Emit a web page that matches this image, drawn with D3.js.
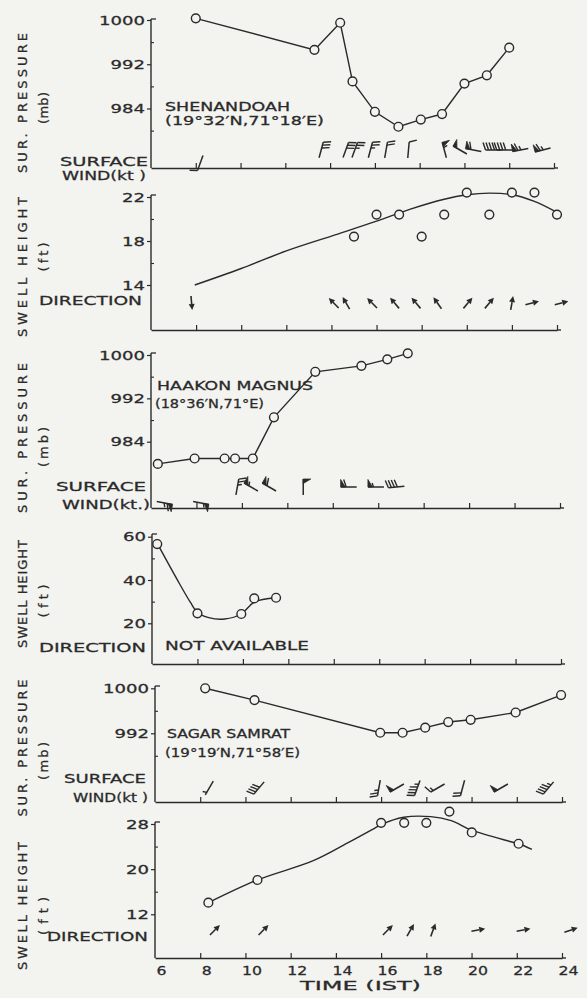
<!DOCTYPE html>
<html><head><meta charset="utf-8">
<script src="https://cdn.jsdelivr.net/npm/d3@7"></script>
<style>
html,body{margin:0;padding:0;background:#f3f3f0;}
svg{display:block;}
text{font-family:"DejaVu Sans",sans-serif;fill:#2a2a2a;font-size:13px;stroke:#2a2a2a;stroke-width:0.28px;}
</style></head><body>
<svg id="c" width="587" height="998"></svg>
<script>
// ---------------- DATA ----------------
const hourTicks = [8,10,12,14,16,18,20,22,24];
const hourLabels = [6,8,10,12,14,16,18,20,22,24];

// Shenandoah (19°32'N, 71°18'E)
const shenPressure = [[8,1000.3],[13.3,994.6],[14.45,999.5],[15,988.9],[16,983.4],[17.05,980.7],[18.05,982],[19,983],[20,988.5],[21,990],[22,995]];
const shenWind = [[13.6,15,30],[14.7,20,30],[15.1,20,25],[15.8,15,25],[16.5,10,20],[17.5,5,10],[19.1,345,55],[19.8,300,50],[20.4,280,60],[21.3,270,40],[21.8,270,40],[22.5,260,65],[23.5,255,65]];
const shenWindLow = [[8.2,200,10]];
const shenSwellObs = [[15,18.4],[16,20.4],[17,20.4],[18,18.4],[19,20.4],[20,22.4],[21,20.4],[22,22.4],[23,22.4],[24,20.4]];
const shenSwellFit = [[7.94,14],[10,15.5],[12,17.1],[14,18.45],[16,19.8],[17.5,20.9],[19,21.8],[20,22.2],[21,22.35],[22,22.2],[23,21.6],[24,20.6]];
const shenSwellDir = [[7.8,175],[14.1,315],[14.65,330],[15.8,315],[16.8,320],[17.75,320],[18.7,325],[20.05,40],[21.0,40],[22.0,10],[22.9,75],[24.2,75]];

// Haakon Magnus (18°36'N, 71°E)
const haakPressure = [[6.3,979.9],[7.92,980.9],[9.24,980.9],[9.7,980.9],[10.48,980.9],[11.41,988.5],[13.23,996.9],[15.26,998],[16.4,999.2],[17.3,1000.3]];
const haakWind = [[9.8,10,25],[10.4,300,55],[11.2,300,60],[12.7,0,50],[14.7,270,60],[15.9,270,55],[16.8,265,40]];
const haakWindLow = [[6.6,100,65],[8.2,100,55]];
const haakSwellObs = [[6.23,56.6],[8.0,24.6],[9.93,24.3],[10.5,31.5],[11.46,31.8]];
const haakSwellFit = [[6.2,57.5],[7.2,38.5],[7.7,29.5],[8.0,25],[8.5,22.6],[9.2,22],[9.93,24.3],[10.5,29.8],[11.46,31.8]];

// Sagar Samrat (19°19'N, 71°58'E)
const sagarPressure = [[8.22,1000],[10.4,997.9],[15.96,992.1],[16.95,992.1],[17.95,993],[18.97,994],[19.96,994.4],[21.95,995.7],[23.96,998.8]];
const sagarWind = [[8.4,210,5],[10.6,220,40],[15.9,190,25],[16.7,240,50],[17.6,200,45],[18.5,240,15],[19.6,195,20],[21.3,240,50],[23.4,220,45]];
const sagarSwellObs = [[8.36,14.06],[10.53,18.08],[16,28.2],[17.02,28.2],[18,28.2],[19.02,30.2],[20.01,26.5],[22.08,24.5]];
const sagarSwellFit = [[8.36,14.06],[10.53,18.08],[13,21.5],[14.5,24.6],[15.6,27],[16,27.9],[17,29.2],[18.2,29.3],[19.1,28.6],[20,26.9],[21.7,24.9],[22.08,24.5],[22.67,23.5]];
const sagarSwellDir = [[8.65,45],[10.8,45],[16.3,45],[17.3,30],[18.3,20],[20.3,80],[22.3,80],[24.4,72]];

const presMajor1 = [984,992,1000], presMinor1 = [980,988,996];
const swellMajor1 = [14,18,22], swellMinor1 = [16,20];
const presMajor2 = [984,992,1000], presMinor2 = [988,996];
const swellMajor2 = [20,40,60], swellMinor2 = [30,50];
const presMajor3 = [992,1000], presMinor3 = [988,996];
const swellMajor3 = [12,20,28], swellMinor3 = [16,24];

// ---------------- DRAWING ----------------
const ink = "#2a2a2a", bg = "#f3f3f0";
const svg = d3.select("#c");
svg.append("rect").attr("width",587).attr("height",998).attr("fill",bg);

function txt(s, x, y, len, size) {
  const t = svg.append("text").attr("x",x).attr("y",y).text(s);
  if (len) t.attr("textLength",len).attr("lengthAdjust","spacingAndGlyphs");
  if (size) t.style("font-size",size+"px");
  return t;
}
function vtxt(s, x, cy, len) {
  svg.append("text").attr("transform",`translate(${x},${cy}) rotate(-90)`)
    .attr("text-anchor","middle").attr("textLength",len).attr("lengthAdjust","spacing").text(s);
}

function panel(c) {
  const g = svg.append("g");
  const x = d3.scaleLinear().domain([6,24]).range([c.x0,c.x1]);
  const y = d3.scaleLinear().domain(c.yd).range(c.yr);
  g.append("line").attr("x1",c.x0).attr("x2",c.x0).attr("y1",c.yTop).attr("y2",c.yBot)
    .attr("stroke",ink).attr("stroke-width",1.4);
  g.append("line").attr("x1",c.x0).attr("x2",c.x0+5).attr("y1",c.yTop).attr("y2",c.yTop)
    .attr("stroke",ink).attr("stroke-width",1.3);
  const ax = g.append("g").attr("transform",`translate(${c.x0},0)`)
    .call(d3.axisLeft(y).tickValues(c.major).tickSize(4).tickPadding(2).tickFormat(d3.format("d")));
  ax.select(".domain").remove();
  ax.selectAll("line").attr("stroke",ink).attr("stroke-width",1.2);
  ax.selectAll("text").attr("fill",ink).style("font-size","13px").attr("font-family","DejaVu Sans")
    .each(function(d){ const s=String(d); d3.select(this).attr("textLength", s.length*11.5).attr("lengthAdjust","spacingAndGlyphs"); });
  const mx = g.append("g").attr("transform",`translate(${c.x0},0)`)
    .call(d3.axisRight(y).tickValues(c.minor).tickSize(3).tickFormat(""));
  mx.select(".domain").remove();
  mx.selectAll("line").attr("stroke",ink).attr("stroke-width",1.1);
  const bx = g.append("g").attr("transform",`translate(0,${c.yBot})`)
    .call(d3.axisBottom(x).tickValues(c.labels ? hourLabels : hourTicks).tickSizeInner(-5).tickSizeOuter(0)
      .tickPadding(8).tickFormat(c.labels ? d3.format("d") : ""));
  bx.select(".domain").attr("stroke",ink).attr("stroke-width",1.4);
  bx.selectAll("line").attr("stroke",ink).attr("stroke-width",1.2);
  bx.selectAll(".tick").filter(d=>d===6).select("line").remove();
  bx.selectAll("text").attr("fill",ink).style("font-size","13px").attr("font-family","DejaVu Sans").attr("dx",6)
    .each(function(d){ const s=String(d); d3.select(this).attr("textLength", s.length*10).attr("lengthAdjust","spacingAndGlyphs"); });
  g.append("line").attr("x1",c.x1).attr("x2",c.x1+4).attr("y1",c.yBot).attr("y2",c.yBot)
    .attr("stroke",ink).attr("stroke-width",1.4);
  return {g,x,y};
}

function drawLine(p, data, curve) {
  p.g.append("path").datum(data)
    .attr("d", d3.line().x(d=>p.x(d[0])).y(d=>p.y(d[1])).curve(curve))
    .attr("fill","none").attr("stroke",ink).attr("stroke-width",1.4);
}
function drawCircles(p, data) {
  p.g.selectAll(null).data(data).join("circle")
    .attr("cx",d=>p.x(d[0])).attr("cy",d=>p.y(d[1])).attr("r",4.4)
    .attr("fill",bg).attr("stroke",ink).attr("stroke-width",1.4);
}

function barb(g, cx, cy, dir, spd) {
  const a = dir*Math.PI/180, L = 16;
  const u = [Math.sin(a), -Math.cos(a)], r = [-u[1], u[0]];
  const tip = [cx+u[0]*L/2, cy+u[1]*L/2], st = [cx-u[0]*L/2, cy-u[1]*L/2];
  g.append("line").attr("x1",st[0]).attr("y1",st[1]).attr("x2",tip[0]).attr("y2",tip[1])
    .attr("stroke",ink).attr("stroke-width",1.5);
  let s = Math.round(spd/5)*5, pos = 0;
  const P = k => [tip[0]-u[0]*k, tip[1]-u[1]*k];
  while (s >= 50) {
    const p0 = P(pos), p1 = P(pos+4.5);
    const ap = [p0[0]+r[0]*7.5, p0[1]+r[1]*7.5];
    g.append("path").attr("d",`M${p0}L${ap}L${p1}Z`).attr("fill",ink).attr("stroke",ink).attr("stroke-width",0.8);
    pos += 5.5; s -= 50;
  }
  while (s >= 10) {
    const p0 = P(pos);
    g.append("line").attr("x1",p0[0]).attr("y1",p0[1])
      .attr("x2",p0[0]+r[0]*7.5+u[0]*2.5).attr("y2",p0[1]+r[1]*7.5+u[1]*2.5)
      .attr("stroke",ink).attr("stroke-width",1.4);
    pos += 3; s -= 10;
  }
  if (s >= 5) {
    if (pos === 0) pos = 3;
    const p0 = P(pos);
    g.append("line").attr("x1",p0[0]).attr("y1",p0[1])
      .attr("x2",p0[0]+r[0]*4+u[0]*1.3).attr("y2",p0[1]+r[1]*4+u[1]*1.3)
      .attr("stroke",ink).attr("stroke-width",1.4);
  }
}
function drawWind(p, data, cy) {
  data.forEach(d => barb(p.g, p.x(d[0]), cy, d[1], d[2]));
}
function drawDirs(p, data, cy) {
  data.forEach(d => {
    const a = d[1]*Math.PI/180, L = 14;
    const u = [Math.sin(a), -Math.cos(a)], r = [-u[1], u[0]];
    const cx = p.x(d[0]);
    const t0 = [cx-u[0]*L/2, cy-u[1]*L/2], h = [cx+u[0]*L/2, cy+u[1]*L/2];
    const b = [h[0]-u[0]*6, h[1]-u[1]*6];
    p.g.append("line").attr("x1",t0[0]).attr("y1",t0[1]).attr("x2",b[0]).attr("y2",b[1])
      .attr("stroke",ink).attr("stroke-width",1.6);
    p.g.append("path").attr("d",`M${h}L${[b[0]+r[0]*3,b[1]+r[1]*3]}L${[b[0]-r[0]*3,b[1]-r[1]*3]}Z`)
      .attr("fill",ink);
  });
}

// Panel 1: Shenandoah pressure
const p1 = panel({x0:151,x1:554,yd:[984,1000],yr:[108.5,20],yTop:19,yBot:168,major:presMajor1,minor:presMinor1});
drawLine(p1, shenPressure, d3.curveLinear);
drawCircles(p1, shenPressure);
drawWind(p1, shenWind, 150);
drawWind(p1, shenWindLow, 163);

// Panel 2: Shenandoah swell
const p2 = panel({x0:151,x1:557,yd:[14,22],yr:[285,197],yTop:195,yBot:330,major:swellMajor1,minor:swellMinor1});
drawLine(p2, shenSwellFit, d3.curveCatmullRom);
drawCircles(p2, shenSwellObs);
drawDirs(p2, shenSwellDir, 303);

// Panel 3: Haakon Magnus pressure
const p3 = panel({x0:151,x1:560,yd:[984,1000],yr:[441.7,355],yTop:353,yBot:508,major:presMajor2,minor:presMinor2});
drawLine(p3, haakPressure, d3.curveLinear);
drawCircles(p3, haakPressure);
drawWind(p3, haakWind, 487);
drawWind(p3, haakWindLow, 503);

// Panel 4: Haakon Magnus swell
const p4 = panel({x0:152,x1:561,yd:[20,60],yr:[623.3,536.7],yTop:534,yBot:664,major:swellMajor2,minor:swellMinor2});
drawLine(p4, haakSwellFit, d3.curveCatmullRom);
drawCircles(p4, haakSwellObs);

// Panel 5: Sagar Samrat pressure
const p5 = panel({x0:155,x1:562,yd:[992,1000],yr:[733.3,688.3],yTop:686,yBot:802,major:presMajor3,minor:presMinor3});
drawLine(p5, sagarPressure, d3.curveLinear);
drawCircles(p5, sagarPressure);
drawWind(p5, sagarWind, 788);

// Panel 6: Sagar Samrat swell
const p6 = panel({x0:155,x1:562,yd:[12,28],yr:[914.3,824],yTop:822,yBot:958,major:swellMajor3,minor:swellMinor3,labels:true});
drawLine(p6, sagarSwellFit, d3.curveCatmullRom);
drawCircles(p6, sagarSwellObs);
drawDirs(p6, sagarSwellDir, 930);

// ---------------- TEXT ----------------
txt("SHENANDOAH", 165, 111, 125, 12);
txt("(19°32′N,71°18′E)", 165, 125, 159, 12);
txt("SURFACE", 60, 166, 88);
txt("WIND(kt )", 62, 180, 84);
txt("DIRECTION", 39, 305, 103);

txt("HAAKON MAGNUS", 157, 390, 156, 12);
txt("(18°36′N,71°E)", 155, 408, 109, 12);
txt("SURFACE", 56, 491, 90);
txt("WIND(kt.)", 62, 509, 88);

txt("NOT AVAILABLE", 165, 650, 144);
txt("DIRECTION", 39, 652, 107);

txt("SAGAR SAMRAT", 167, 738, 123, 12);
txt("(19°19′N,71°58′E)", 165, 757, 135, 12);
txt("SURFACE", 64, 783, 82);
txt("WIND(kt )", 73, 802, 75);

txt("DIRECTION", 47, 941, 101);
txt("TIME (IST)", 300, 990, 121);

vtxt("SUR. PRESSURE", 26.5, 103, 140);
vtxt("(mb)", 47.5, 108, 32);
vtxt("SWELL HEIGHT", 26.5, 267, 140);
vtxt("(ft)", 47.5, 257, 29);
vtxt("SUR. PRESSURE", 26.5, 438, 150);
vtxt("(mb)", 47.5, 447, 40);
vtxt("SWELL HEIGHT", 26.5, 594, 108);
vtxt("(ft)", 47.5, 601, 33);
vtxt("SUR. PRESSURE", 26.5, 748, 137);
vtxt("(mb)", 47.5, 761, 38);
vtxt("SWELL HEIGHT", 26.5, 906, 128);
vtxt("(ft)", 47.5, 916, 38);
</script>
</body></html>
